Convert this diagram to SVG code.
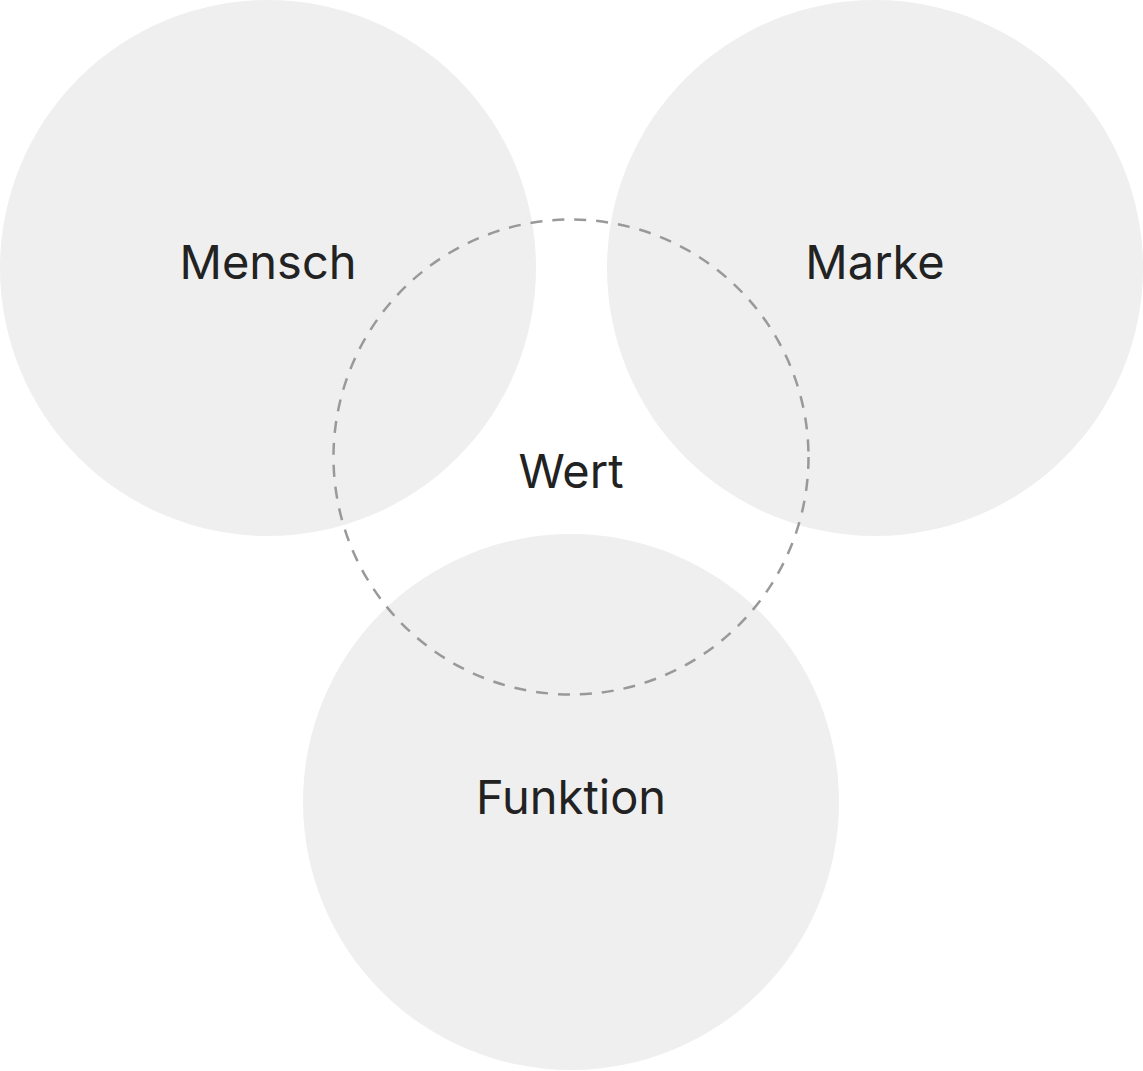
<svg xmlns="http://www.w3.org/2000/svg" width="1143" height="1071" viewBox="0 0 1143 1071">
<style>
.c{fill:#efefef;stroke:none}
.t{font-family:Inter,"Liberation Sans",sans-serif;font-size:47px;fill:#222;text-anchor:middle}
.d{fill:none;stroke:#999;stroke-width:2.5;stroke-dasharray:12 10}
</style>
<rect width="1143" height="1071" fill="#fff"/>
<g id="mensch"><circle class="c" cx="268" cy="268" r="268"/></g>
<g id="marke"><circle class="c" cx="875" cy="268" r="268"/></g>
<g id="funktion"><circle class="c" cx="571" cy="802" r="268"/></g>
<g id="wert"><circle class="d" cx="571" cy="457" r="237.5"/></g>
<g id="labels">
<text class="t" x="268" y="279">Mensch</text>
<text class="t" x="875" y="279">Marke</text>
<text class="t" x="571" y="488">Wert</text>
<text class="t" x="571" y="814">Funktion</text>
</g>
</svg>
